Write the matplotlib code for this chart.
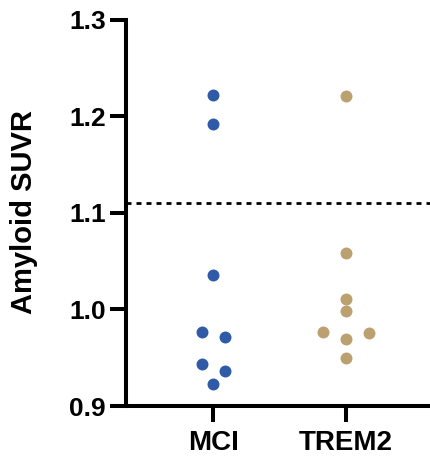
import matplotlib
matplotlib.use("Agg")
import matplotlib.pyplot as plt
import numpy as np

plt.rcParams['font.family'] = ['Liberation Sans', 'DejaVu Sans']
plt.rcParams['font.weight'] = 'bold'

categories = ["MCI", "TREM2"]
mci_values = [1.222, 1.192, 1.036, 0.977, 0.971, 0.943, 0.936, 0.923]
trem2_values = [1.221, 1.058, 1.011, 0.998, 0.977, 0.969, 0.976, 0.950]
series = [mci_values, trem2_values]
colors = ["#2E5AA8", "#BBA070"]
threshold = 1.110
yticks = [0.9, 1.0, 1.1, 1.2, 1.3]


def swarm_offsets(vals, bin_h=0.01, step=0.17):
    """Group nearby values (in data order) and spread each group symmetrically."""
    offs = np.zeros(len(vals))
    groups = []
    for i, v in enumerate(vals):
        if groups and abs(v - vals[groups[-1][0]]) < bin_h:
            groups[-1].append(i)
        else:
            groups.append([i])
    for g in groups:
        n = len(g)
        for k, idx in enumerate(g):
            offs[idx] = (k - (n - 1) / 2) * step
    return offs


fig = plt.figure(figsize=(4.31, 4.61), dpi=100)
ax = fig.add_axes([0.292, 0.1193, 0.708, 0.8384])

for i, (vals, c) in enumerate(zip(series, colors)):
    x = i + swarm_offsets(vals)
    ax.plot(x, vals, 'o', color=c, markersize=8.6, markeredgewidth=0, clip_on=False)

ax.axhline(threshold, color='black', linewidth=2.0, linestyle=(0, (1.8, 1.8)),
           dash_capstyle='butt')

ax.set_xlim(-0.658, 1.64)
ax.set_ylim(0.9, 1.3)
ax.set_yticks(yticks)
ax.set_yticklabels([f"{t:.1f}" for t in yticks])
ax.set_xticks(range(len(categories)))
ax.set_xticklabels(categories, fontsize=20, fontweight='bold')

for s in ['top', 'right']:
    ax.spines[s].set_visible(False)
for s in ['left', 'bottom']:
    ax.spines[s].set_linewidth(2.9)

ax.tick_params(axis='y', length=11.5, width=2.9, pad=3, labelsize=19)
ax.tick_params(axis='x', length=11.5, width=2.9, pad=5.5)

ax.set_ylabel("Amyloid SUVR", fontsize=21, fontweight='bold')
ax.yaxis.label.set_va('center')
ax.yaxis.set_label_coords(-0.334, 0.502)

fig.savefig("out.png", dpi=100)
